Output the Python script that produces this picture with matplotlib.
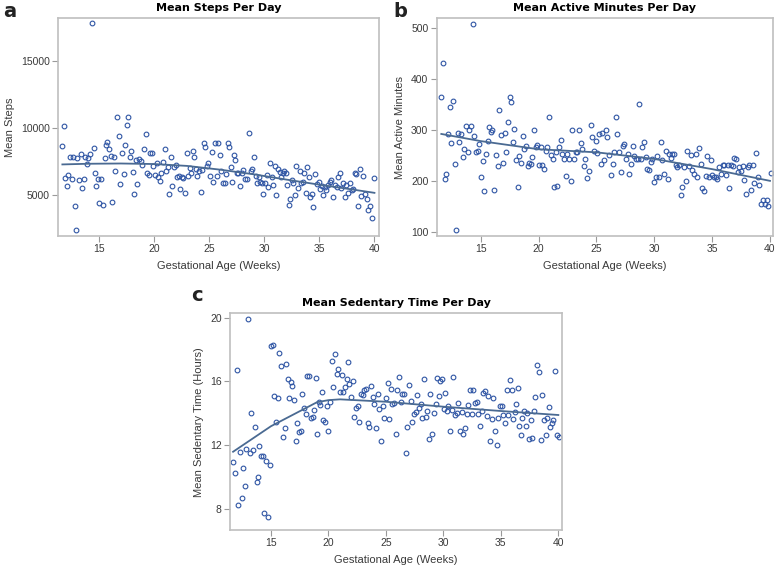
import matplotlib
matplotlib.use('Agg')
import matplotlib.pyplot as plt

# ---- a: mean steps per day ----
steps_wk = [11.68, 11.86, 11.98, 12.1, 12.25, 12.4, 12.58, 12.67, 12.8, 12.95, 13.07, 13.2, 13.37, 13.5,
            13.64, 13.79, 13.94, 14.06, 14.2, 14.37, 14.55, 14.67, 14.79, 14.94, 15.06, 15.2, 15.4, 15.54,
            15.66, 15.78, 15.94, 16.09, 16.24, 16.36, 16.5, 16.66, 16.84, 16.96, 17.11, 17.26, 17.38, 17.54,
            17.66, 17.8, 17.96, 18.08, 18.23, 18.38, 18.5, 18.65, 18.8, 18.96, 19.1, 19.26, 19.38, 19.53,
            19.68, 19.83, 19.95, 20.1, 20.25, 20.4, 20.56, 20.68, 20.83, 20.98, 21.13, 21.28, 21.4, 21.52,
            21.67, 21.82, 21.97, 22.1, 22.25, 22.4, 22.52, 22.67, 22.82, 22.97, 23.12, 23.24, 23.39, 23.51,
            23.67, 23.82, 23.94, 24.09, 24.24, 24.39, 24.54, 24.66, 24.78, 24.93, 25.08, 25.24, 25.39, 25.54,
            25.69, 25.84, 25.99, 26.11, 26.26, 26.41, 26.53, 26.68, 26.83, 26.96, 27.1, 27.26, 27.38, 27.5,
            27.65, 27.8, 27.95, 28.1, 28.25, 28.4, 28.65, 28.77, 28.92, 29.07, 29.22, 29.34, 29.49, 29.61,
            29.76, 29.92, 30.07, 30.22, 30.37, 30.52, 30.67, 30.82, 30.97, 31.09, 31.24, 31.39, 31.55, 31.67,
            31.79, 31.94, 32.09, 32.21, 32.33, 32.48, 32.63, 32.78, 32.93, 33.09, 33.24, 33.36, 33.51, 33.63,
            33.78, 33.9, 34.05, 34.2, 34.32, 34.47, 34.63, 34.78, 34.93, 35.05, 35.2, 35.35, 35.5, 35.65,
            35.8, 35.95, 36.1, 36.26, 36.41, 36.56, 36.71, 36.86, 37.01, 37.16, 37.31, 37.46, 37.61, 37.77,
            37.92, 38.07, 38.22, 38.37, 38.52, 38.67, 38.82, 38.97, 39.12, 39.28, 39.43, 39.58, 39.76, 40.0]
steps_val = [8657, 10150, 6294, 5700, 6490, 7860, 6240, 7810, 4180, 2390, 7740, 6120, 8040, 5550,
             6240, 7860, 7310, 7740, 8090, 17810, 8480, 6620, 5700, 6220, 4380, 6220, 4280, 7760,
             8760, 8980, 8460, 7940, 4450, 7860, 6790, 10820, 9400, 5820, 8180, 6570, 8730, 10200,
             10850, 7860, 8280, 6720, 5070, 7610, 5800, 7660, 7560, 7240, 8430, 9550, 6670, 6490,
             8110, 8110, 7190, 6490, 7360, 6320, 6040, 6620, 7440, 8460, 6790, 7110, 5120, 7860,
             5670, 7110, 7260, 6320, 6420, 5420, 6370, 6270, 5170, 8110, 6440, 7010, 6620, 8310,
             7810, 6920, 6440, 6790, 5220, 6870, 8860, 8610, 7190, 7410, 6440, 8230, 5970, 8860,
             6440, 8910, 8010, 6790, 5870, 5870, 6570, 8860, 8610, 7110, 5950, 7990, 7610, 6670,
             6620, 5700, 6620, 6870, 6240, 6240, 9600, 6820, 6940, 7810, 6420, 5870, 6320, 5990,
             5870, 5070, 5870, 6490, 5620, 7360, 6370, 5750, 7190, 4980, 6920, 6740, 6370, 6620,
             6820, 6620, 5750, 4250, 4680, 6120, 5920, 5020, 7160, 5500, 6770, 5870, 5990, 6620,
             5170, 7110, 6370, 4880, 5050, 4130, 6570, 5800, 5990, 5450, 5700, 5000, 5620, 5370,
             5750, 5950, 6120, 4880, 5750, 5620, 6370, 6620, 5500, 5920, 4880, 5750, 5170, 5870,
             5370, 5420, 6620, 6570, 4200, 6920, 4930, 6420, 5120, 4700, 3880, 4180, 3260, 6290]
steps_fit_wk = [11.7, 14, 17, 20, 23, 26, 29, 32, 35, 38, 40]
steps_fit = [7290, 7340, 7360, 7320, 7180, 6900, 6560, 6160, 5780, 5420, 5170]

# ---- b: mean active minutes per day ----
active_wk = [11.6, 11.78, 11.9, 12.03, 12.2, 12.35, 12.47, 12.61, 12.75, 13.0, 12.87, 13.16, 13.33, 13.47,
             13.59, 13.73, 13.88, 14.02, 14.16, 14.34, 14.45, 14.6, 14.74, 14.88, 15.03, 15.17, 15.32, 15.46,
             15.6, 15.75, 15.89, 16.0, 16.18, 16.32, 16.47, 16.61, 16.76, 16.96, 17.07, 17.22, 17.36, 17.5,
             17.62, 17.76, 17.9, 18.05, 18.2, 18.34, 18.49, 18.63, 18.77, 18.92, 19.06, 19.18, 19.32, 19.46,
             19.6, 19.75, 19.9, 20.04, 20.18, 20.33, 20.47, 20.62, 20.76, 20.9, 21.05, 21.22, 21.36, 21.48,
             21.62, 21.77, 21.9, 22.06, 22.2, 22.34, 22.49, 22.63, 22.78, 22.92, 23.06, 23.2, 23.35, 23.5,
             23.64, 23.78, 23.93, 24.04, 24.19, 24.36, 24.5, 24.65, 24.8, 24.94, 25.08, 25.22, 25.37, 25.5,
             25.65, 25.8, 25.94, 26.12, 26.26, 26.4, 26.55, 26.66, 26.8, 26.98, 27.13, 27.27, 27.41, 27.56,
             27.7, 27.84, 27.99, 28.13, 28.28, 28.42, 28.56, 28.7, 28.85, 28.97, 29.14, 29.29, 29.4, 29.54,
             29.69, 29.83, 29.98, 30.12, 30.26, 30.41, 30.55, 30.7, 30.84, 31.01, 31.16, 31.27, 31.42, 31.56,
             31.7, 31.85, 31.99, 32.14, 32.28, 32.43, 32.57, 32.71, 32.86, 33.0, 33.14, 33.29, 33.43, 33.58,
             33.72, 33.86, 34.01, 34.15, 34.3, 34.44, 34.59, 34.73, 34.88, 35.0, 35.16, 35.3, 35.45, 35.6,
             35.77, 35.91, 36.05, 36.2, 36.34, 36.49, 36.63, 36.77, 36.92, 37.06, 37.2, 37.35, 37.49, 37.64,
             37.78, 37.93, 38.07, 38.21, 38.36, 38.5, 38.65, 38.79, 38.93, 39.08, 39.22, 39.37, 39.57, 39.77,
             39.86, 40.06]
active_val = [365, 432, 203, 214, 291, 344, 274, 357, 234, 294, 103, 276, 291, 246,
              263, 307, 256, 299, 307, 508, 288, 256, 259, 272, 207, 238, 181, 253,
              279, 306, 295, 299, 182, 250, 229, 339, 290, 236, 293, 256, 316, 365,
              355, 277, 301, 241, 188, 249, 235, 288, 263, 268, 229, 235, 233, 246,
              299, 266, 271, 231, 266, 231, 223, 259, 266, 325, 250, 243, 188, 256,
              190, 266, 281, 253, 242, 210, 253, 242, 199, 299, 243, 256, 256, 300,
              274, 263, 229, 242, 205, 220, 310, 287, 258, 279, 254, 291, 233, 293,
              240, 299, 286, 251, 212, 233, 257, 325, 292, 257, 217, 268, 272, 242,
              253, 214, 233, 268, 248, 242, 242, 350, 242, 266, 276, 246, 223, 222,
              237, 243, 197, 207, 248, 207, 277, 240, 214, 259, 203, 253, 245, 253,
              253, 232, 227, 232, 172, 188, 227, 199, 258, 229, 250, 222, 214, 253,
              207, 264, 233, 186, 180, 210, 248, 207, 241, 212, 207, 207, 204, 227,
              214, 231, 231, 212, 231, 186, 232, 229, 245, 242, 217, 227, 220, 229,
              201, 174, 227, 232, 183, 232, 196, 255, 207, 192, 154, 163, 154, 163,
              150, 216]
active_fit_wk = [11.6, 15, 20, 25, 30, 35, 40]
active_fit = [292, 278, 262, 256, 243, 223, 200]

# ---- c: mean sedentary time per day ----
sed_wk = [11.72, 11.9, 12.01, 12.16, 12.3, 12.45, 12.56, 12.7, 12.85, 13.03, 13.14, 13.26, 13.4, 13.58,
          13.75, 13.87, 13.98, 14.13, 14.27, 14.42, 14.59, 14.74, 14.88, 14.97, 15.15, 15.29, 15.44, 15.6,
          15.73, 15.87, 16.07, 16.19, 16.3, 16.45, 16.6, 16.71, 16.86, 17.0, 17.15, 17.29, 17.44, 17.58,
          17.73, 17.87, 18.02, 18.16, 18.31, 18.48, 18.63, 18.77, 18.89, 19.03, 19.18, 19.29, 19.44, 19.55,
          19.7, 19.84, 19.99, 20.13, 20.28, 20.43, 20.57, 20.72, 20.86, 21.0, 21.15, 21.3, 21.44, 21.59,
          21.7, 21.82, 21.96, 22.1, 22.25, 22.4, 22.54, 22.69, 22.83, 22.98, 23.12, 23.27, 23.41, 23.56,
          23.7, 23.85, 24.0, 24.14, 24.28, 24.43, 24.58, 24.72, 24.86, 25.0, 25.15, 25.27, 25.41, 25.56,
          25.7, 25.85, 25.99, 26.14, 26.28, 26.43, 26.58, 26.72, 26.87, 27.01, 27.16, 27.3, 27.45, 27.59,
          27.74, 27.88, 28.03, 28.17, 28.32, 28.46, 28.61, 28.75, 28.87, 29.01, 29.16, 29.33, 29.48, 29.59,
          29.74, 29.88, 30.03, 30.17, 30.29, 30.43, 30.58, 30.72, 30.87, 31.01, 31.16, 31.3, 31.45, 31.59,
          31.74, 31.88, 32.03, 32.17, 32.32, 32.46, 32.61, 32.76, 32.9, 33.05, 33.19, 33.34, 33.48, 33.63,
          33.77, 33.92, 34.06, 34.21, 34.35, 34.5, 34.65, 34.79, 34.94, 35.08, 35.22, 35.37, 35.51, 35.66,
          35.8, 35.95, 36.09, 36.21, 36.32, 36.47, 36.61, 36.73, 36.87, 37.02, 37.19, 37.31, 37.45, 37.6,
          37.74, 37.89, 38.0, 38.18, 38.32, 38.47, 38.61, 38.76, 38.9, 39.05, 39.2, 39.28, 39.43, 39.57,
          39.75, 39.86, 40.04]
sed_val = [10.94, 10.29, 16.71, 8.27, 11.56, 8.69, 10.6, 9.44, 11.75, 19.94, 11.54, 14.0, 11.69, 13.17,
           9.73, 10.04, 11.96, 11.33, 11.35, 7.75, 11.02, 7.54, 10.75, 18.23, 18.27, 15.08, 13.44, 14.98,
           17.75, 16.98, 12.54, 13.1, 17.1, 16.13, 14.94, 15.94, 15.73, 14.81, 12.29, 13.42, 12.85, 12.9,
           15.19, 14.31, 13.96, 16.35, 16.35, 13.73, 13.75, 14.21, 16.19, 12.71, 14.69, 14.52, 15.31, 13.58,
           13.48, 14.48, 12.92, 14.73, 17.29, 15.67, 17.69, 16.44, 16.81, 15.31, 16.4, 15.31, 15.65, 16.13,
           17.23, 15.81, 15.04, 16.04, 13.79, 14.35, 14.46, 13.48, 15.21, 15.15, 15.46, 15.5, 13.38, 13.13,
           15.73, 15.04, 14.56, 13.1, 15.23, 14.25, 12.29, 14.46, 13.69, 14.94, 15.88, 13.65, 15.52, 14.58,
           14.67, 12.71, 15.46, 16.29, 14.73, 15.19, 15.19, 11.5, 13.13, 15.77, 14.79, 13.48, 13.94, 14.1,
           15.15, 14.31, 14.58, 13.73, 16.13, 13.79, 14.17, 12.38, 15.19, 12.69, 14.0, 14.56, 16.19, 15.1,
           16.02, 16.15, 14.25, 15.25, 14.17, 14.46, 12.92, 14.21, 16.29, 13.9, 14.0, 14.67, 12.92, 14.1,
           12.69, 13.06, 13.94, 14.52, 15.44, 13.94, 15.44, 14.67, 14.73, 13.96, 13.23, 14.17, 15.25, 15.42,
           13.85, 15.1, 12.27, 13.63, 14.94, 12.9, 12.02, 13.69, 14.48, 14.46, 13.9, 13.38, 15.46, 13.9,
           16.08, 15.46, 13.65, 14.1, 14.58, 15.56, 13.21, 12.65, 13.73, 14.15, 13.23, 14.0, 12.4, 13.58,
           12.48, 14.15, 15.04, 17.06, 16.6, 12.33, 15.15, 13.58, 12.65, 13.69, 14.42, 13.13, 13.38, 13.58,
           16.65, 12.65, 12.54]
sed_fit_wk = [11.7, 15, 19, 20, 21, 25, 30, 35, 40]
sed_fit = [11.6, 13.2, 14.7, 14.83, 14.88, 14.73, 14.42, 14.15, 13.9]

pt_color = '#2f55a4'
fit_color = '#4a6a92'
frame_color = '#bfbfbf'
text_color = '#3a3a3a'

fig = plt.figure(figsize=(7.77, 5.69), dpi=100)


def panel(rect, wk, val, fit_wk, fit, title, ylabel, letter, xlim, ylim, yticks, letter_xy):
    ax = fig.add_axes(rect)
    ax.plot(wk, val, linestyle='none', marker='o', markersize=3.4, markerfacecolor='none',
            markeredgecolor=pt_color, markeredgewidth=0.8)
    ax.plot(fit_wk, fit, color=fit_color, linewidth=1.3)
    ax.set_xlim(*xlim)
    ax.set_ylim(*ylim)
    ax.set_xticks([15, 20, 25, 30, 35, 40])
    ax.set_yticks(yticks)
    for s in ax.spines.values():
        s.set_color(frame_color)
        s.set_linewidth(1.2)
    ax.tick_params(direction='out', length=4, width=0.8, color='#9a9a9a',
                   labelsize=7.5, labelcolor=text_color, pad=2)
    for lab in ax.get_xticklabels() + ax.get_yticklabels():
        lab.set_family('Liberation Sans')
    ax.set_title(title, fontsize=8, fontweight='bold', family='DejaVu Sans', pad=5)
    ax.set_xlabel('Gestational Age (Weeks)', fontsize=8, color=text_color,
                  family='Liberation Sans', labelpad=5)
    ax.set_ylabel(ylabel, fontsize=8, color=text_color, family='Liberation Sans', labelpad=4)
    fig.text(letter_xy[0], letter_xy[1], letter, fontsize=14, fontweight='bold',
             family='DejaVu Sans', color='#222222', va='top', ha='left')
    return ax


panel([0.0746, 0.585, 0.413, 0.383], steps_wk, steps_val, steps_fit_wk, steps_fit,
      'Mean Steps Per Day', 'Mean Steps', 'a', (11.3, 40.4), (1940, 18200),
      [5000, 10000, 15000], (0.004, 0.997))
panel([0.562, 0.585, 0.4324, 0.383], active_wk, active_val, active_fit_wk, active_fit,
      'Mean Active Minutes Per Day', 'Mean Active Minutes', 'b', (11.2, 40.23), (91.6, 519),
      [100, 200, 300, 400, 500], (0.506, 0.997))
panel([0.296, 0.0685, 0.4273, 0.381], sed_wk, sed_val, sed_fit_wk, sed_fit,
      'Mean Sedentary Time Per Day', 'Mean Sedentary Time (Hours)', 'c', (11.43, 40.32), (6.7, 20.27),
      [8, 12, 16, 20], (0.246, 0.497))

fig.savefig('out.png', dpi=100)
